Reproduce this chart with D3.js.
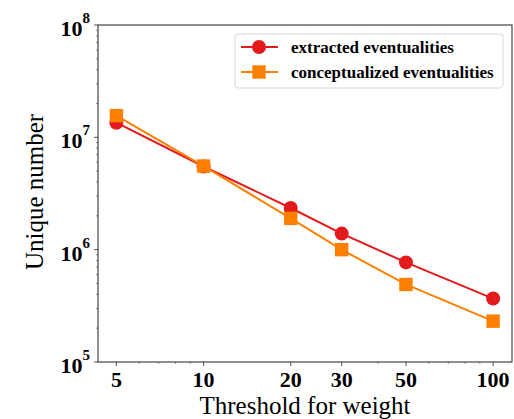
<!DOCTYPE html>
<html>
<head>
<meta charset="utf-8">
<script src="https://cdn.jsdelivr.net/npm/d3@7"></script>
<style>
	body { margin: 0; background: #fff; }
	text { font-family: "Liberation Serif", "Times New Roman", serif; }
</style>
</head>
<body>
<div id="chart"></div>
<script>
// data
var thresholds = [5, 10, 20, 30, 50, 100];
var extracted = [1.35e7, 5.5e6, 2.35e6, 1.39e6, 7.7e5, 3.67e5];
var conceptualized = [1.56e7, 5.55e6, 1.9e6, 1.0e6, 4.9e5, 2.31e5];
var xTicks = [5, 10, 20, 30, 50, 100];
var xMinor = [6, 7, 8, 9, 40, 60, 70, 80, 90];
var yTicks = [1e5, 1e6, 1e7, 1e8];
var seriesNames = ["extracted eventualities", "conceptualized eventualities"];

drawchart()

function drawchart() {
	var W = 514, H = 419;
	var left = 98, right = 512, top = 25, bottom = 362;

	var svg = d3.select("#chart")
		.append("svg")
		.attr("width", W)
		.attr("height", H);

	var x = d3.scaleLog().domain([4.32, 116.2]).range([left, right]);
	var y = d3.scaleLog().domain([1e5, 1e8]).range([bottom, top]);

	// minor y ticks: 2..9 in each decade
	var yMinor = [];
	[1e5, 1e6, 1e7].forEach(function(d) {
		for (var k = 2; k < 10; k++) yMinor.push(d * k);
	});

	var axes = svg.append("g");

	// ticks
	axes.selectAll(".ymaj")
		.data(yTicks)
		.join("line")
		.attr("x1", left - 4).attr("x2", left)
		.attr("y1", d => y(d)).attr("y2", d => y(d))
		.attr("stroke", "#555").attr("stroke-width", 1);
	axes.selectAll(".ymin")
		.data(yMinor)
		.join("line")
		.attr("x1", left - 2).attr("x2", left)
		.attr("y1", d => y(d)).attr("y2", d => y(d))
		.attr("stroke", "#777").attr("stroke-width", 0.8);
	axes.selectAll(".xmaj")
		.data(xTicks)
		.join("line")
		.attr("x1", d => x(d)).attr("x2", d => x(d))
		.attr("y1", bottom).attr("y2", bottom + 4)
		.attr("stroke", "#555").attr("stroke-width", 1);
	axes.selectAll(".xmin")
		.data(xMinor)
		.join("line")
		.attr("x1", d => x(d)).attr("x2", d => x(d))
		.attr("y1", bottom).attr("y2", bottom + 2)
		.attr("stroke", "#777").attr("stroke-width", 0.8);

	// frame
	axes.append("rect")
		.attr("x", left).attr("y", top)
		.attr("width", right - left).attr("height", bottom - top)
		.attr("fill", "none")
		.attr("stroke", "#444")
		.attr("stroke-width", 1.2);

	// y tick labels 10^n
	var ylab = axes.selectAll(".ylab")
		.data(yTicks)
		.join("text")
		.attr("x", left - 8)
		.attr("y", d => y(d) + 11)
		.attr("text-anchor", "end")
		.style("font-size", "22px")
		.style("font-weight", "bold");
	ylab.append("tspan").text("10");
	ylab.append("tspan")
		.attr("dy", -13)
		.style("font-size", "15px")
		.text(d => Math.round(Math.log10(d)));

	// x tick labels
	axes.selectAll(".xlab")
		.data(xTicks)
		.join("text")
		.attr("x", d => x(d))
		.attr("y", 387)
		.attr("text-anchor", "middle")
		.style("font-size", "22px")
		.style("font-weight", "bold")
		.text(d => d);

	// axis titles
	svg.append("text")
		.attr("x", 305).attr("y", 414)
		.attr("text-anchor", "middle")
		.style("font-size", "25px")
		.text("Threshold for weight");
	svg.append("text")
		.attr("transform", "translate(43,192) rotate(-90)")
		.attr("text-anchor", "middle")
		.style("font-size", "25px")
		.text("Unique number");

	var line = d3.line()
		.x(d => x(d[0]))
		.y(d => y(d[1]));

	var red = "#e31a1c", orange = "#ff7f00";
	var ext = thresholds.map((t, i) => [t, extracted[i]]);
	var con = thresholds.map((t, i) => [t, conceptualized[i]]);

	svg.append("path")
		.attr("d", line(ext))
		.attr("fill", "none")
		.attr("stroke", red)
		.attr("stroke-width", 2);
	svg.selectAll(".pt1")
		.data(ext)
		.join("circle")
		.attr("cx", d => x(d[0]))
		.attr("cy", d => y(d[1]))
		.attr("r", 7)
		.attr("fill", red);

	svg.append("path")
		.attr("d", line(con))
		.attr("fill", "none")
		.attr("stroke", orange)
		.attr("stroke-width", 2);
	svg.selectAll(".pt2")
		.data(con)
		.join("rect")
		.attr("x", d => x(d[0]) - 6.7)
		.attr("y", d => y(d[1]) - 6.7)
		.attr("width", 13.4)
		.attr("height", 13.4)
		.attr("fill", orange);

	// legend
	var lg = svg.append("g");
	lg.append("rect")
		.attr("x", 235).attr("y", 34)
		.attr("width", 268).attr("height", 54)
		.attr("rx", 3)
		.attr("fill", "#fff")
		.attr("stroke", "#d8d8d8")
		.attr("stroke-width", 1);
	var rows = [
		{ name: seriesNames[0], color: red, shape: "circle", cy: 47 },
		{ name: seriesNames[1], color: orange, shape: "square", cy: 72 }
	];
	rows.forEach(function(r) {
		lg.append("line")
			.attr("x1", 241).attr("x2", 278)
			.attr("y1", r.cy).attr("y2", r.cy)
			.attr("stroke", r.color).attr("stroke-width", 2);
		if (r.shape == "circle") {
			lg.append("circle")
				.attr("cx", 259).attr("cy", r.cy).attr("r", 7)
				.attr("fill", r.color);
		} else {
			lg.append("rect")
				.attr("x", 259 - 6.7).attr("y", r.cy - 6.7)
				.attr("width", 13.4).attr("height", 13.4)
				.attr("fill", r.color);
		}
		lg.append("text")
			.attr("x", 291).attr("y", r.cy + 6)
			.style("font-size", "17px")
			.style("font-weight", "bold")
			.text(r.name);
	});
}
</script>
</body>
</html>
